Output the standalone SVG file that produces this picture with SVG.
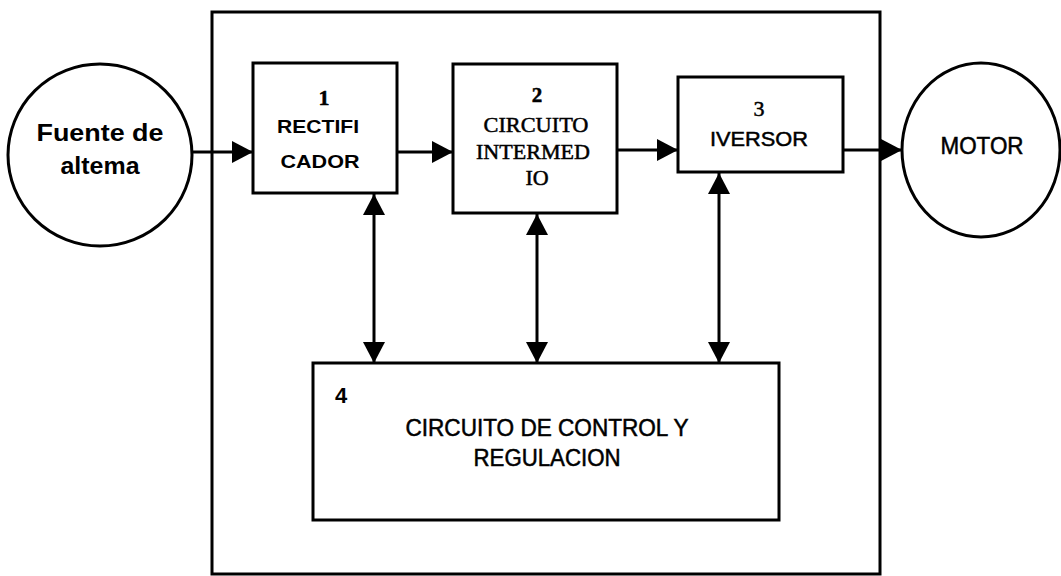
<svg xmlns="http://www.w3.org/2000/svg" width="1061" height="576" viewBox="0 0 1061 576">
<style>
.shape{fill:#fff;stroke:#000;stroke-width:3}
.frame{fill:none;stroke:#000;stroke-width:3}
.line{stroke:#000;stroke-width:3;fill:none}
.sans{font-family:"Liberation Sans",Arial,sans-serif;fill:#000}
.serif{font-family:"Liberation Serif","Times New Roman",serif;fill:#000;stroke:#000;stroke-width:0.5}
.b{font-weight:bold}
.h{stroke:#000;stroke-width:0.5}
</style>
<defs>
<marker id="arr" markerUnits="userSpaceOnUse" markerWidth="22" markerHeight="24" refX="21" refY="11" orient="auto-start-reverse" viewBox="0 0 22 22">
<path d="M0,0 L21,11 L0,22 z" fill="#000"/>
</marker>
</defs>
<rect id="frame" class="frame" x="212" y="12" width="668" height="562"/>
<g id="fuente">
<ellipse class="shape" cx="100" cy="155" rx="92" ry="91"/>
<text class="sans b" x="100" y="141" font-size="23" text-anchor="middle" textLength="127" lengthAdjust="spacingAndGlyphs">Fuente de</text>
<text class="sans b" x="100" y="174" font-size="23" text-anchor="middle" textLength="79" lengthAdjust="spacingAndGlyphs">altema</text>
</g>
<g id="rectificador">
<rect class="shape" x="253" y="63" width="144" height="130"/>
<text class="serif b" x="324" y="105" font-size="22" text-anchor="middle">1</text>
<text class="sans b" x="318" y="133" font-size="19" text-anchor="middle" textLength="82" lengthAdjust="spacingAndGlyphs">RECTIFI</text>
<text class="sans b" x="320" y="168" font-size="19" text-anchor="middle" textLength="79" lengthAdjust="spacingAndGlyphs">CADOR</text>
</g>
<g id="intermedio">
<rect class="shape" x="453" y="64" width="164" height="149"/>
<text class="serif b" x="537" y="102" font-size="21" text-anchor="middle">2</text>
<text class="serif" x="536" y="132" font-size="22" text-anchor="middle" textLength="105" lengthAdjust="spacingAndGlyphs">CIRCUITO</text>
<text class="serif" x="533" y="159" font-size="22" text-anchor="middle" textLength="114" lengthAdjust="spacingAndGlyphs">INTERMED</text>
<text class="serif" x="537" y="185" font-size="22" text-anchor="middle">IO</text>
</g>
<g id="inversor">
<rect class="shape" x="678" y="77" width="165" height="95"/>
<text class="serif" x="759" y="116" font-size="22" text-anchor="middle">3</text>
<text class="sans h" x="759" y="146" font-size="21" text-anchor="middle" textLength="98" lengthAdjust="spacingAndGlyphs">IVERSOR</text>
</g>
<g id="motor">
<ellipse class="shape" cx="981" cy="150" rx="79" ry="87"/>
<text class="sans h" x="982" y="154" font-size="23" text-anchor="middle" textLength="83" lengthAdjust="spacingAndGlyphs">MOTOR</text>
</g>
<g id="control">
<rect class="shape" x="313" y="363" width="466" height="157"/>
<text class="sans b" x="341" y="403" font-size="22" text-anchor="middle">4</text>
<text class="sans h" x="547" y="436" font-size="23" text-anchor="middle" textLength="283" lengthAdjust="spacingAndGlyphs">CIRCUITO DE CONTROL Y</text>
<text class="sans h" x="547" y="466" font-size="23" text-anchor="middle" textLength="147" lengthAdjust="spacingAndGlyphs">REGULACION</text>
</g>
<g id="connectors">
<line class="line" x1="193" y1="152" x2="253" y2="152" marker-end="url(#arr)"/>
<line class="line" x1="397" y1="152" x2="453" y2="152" marker-end="url(#arr)"/>
<line class="line" x1="617" y1="150" x2="678" y2="150" marker-end="url(#arr)"/>
<line class="line" x1="843" y1="150" x2="902" y2="150" marker-end="url(#arr)"/>
<line class="line" x1="374" y1="194" x2="374" y2="363" marker-start="url(#arr)" marker-end="url(#arr)"/>
<line class="line" x1="537" y1="214" x2="537" y2="363" marker-start="url(#arr)" marker-end="url(#arr)"/>
<line class="line" x1="719" y1="173" x2="719" y2="363" marker-start="url(#arr)" marker-end="url(#arr)"/>
</g>
</svg>
